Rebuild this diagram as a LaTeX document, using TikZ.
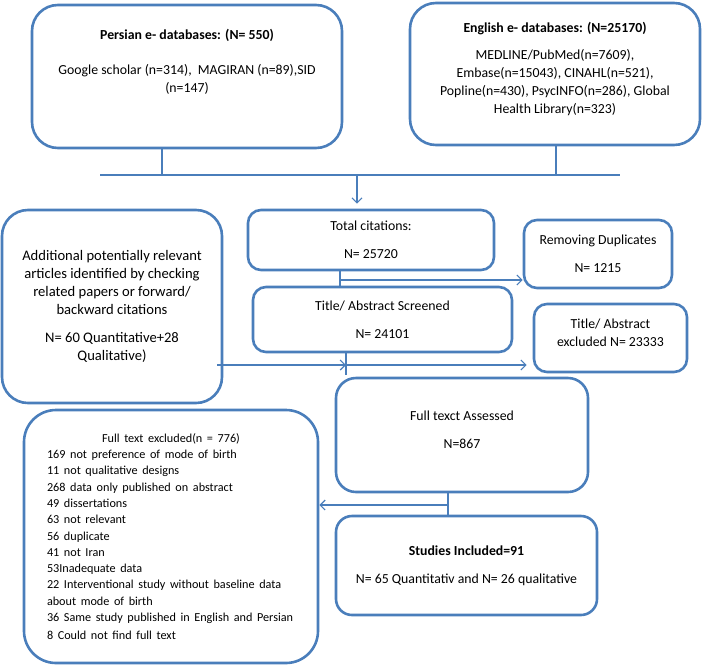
\documentclass[tikz,border=0pt]{standalone}
\usepackage{fontspec}
\setmainfont{Carlito}
\usetikzlibrary{arrows.meta}
\definecolor{boxblue}{RGB}{74,126,187}
\tikzset{
	bigbox/.style={draw=boxblue, line width=2.6pt, rounded corners=26pt, inner sep=0pt, align=center},
	smallbox/.style={draw=boxblue, line width=2.6pt, rounded corners=13pt, inner sep=0pt, align=center},
	link/.style={draw=boxblue, line width=1.2pt},
}

\begin{document}
\begin{tikzpicture}[x=1pt, y=-1pt, font=\fontsize{13.8}{18}\selectfont]
	\useasboundingbox (0,0) rectangle (708,664);
	
	\node (pers) [bigbox, minimum width=310pt, minimum height=143pt] at (187,76.5) {\textbf{Persian e- databases: (N= 550)}\\[17pt] Google scholar (n=314),~ MAGIRAN (n=89),SID\\ (n=147)\\[14pt]\mbox{}};
	\node (eng) [bigbox, minimum width=290pt, minimum height=142pt] at (555,74) {\textbf{English e- databases: (N=25170)}\\[9pt] MEDLINE/PubMed(n=7609),\\ Embase(n=15043), CINAHL(n=521),\\ Popline(n=430), PsycINFO(n=286), Global\\ Health Library(n=323)\\[-6pt]\mbox{}};
	
	\node (total) [smallbox, minimum width=246pt, minimum height=60pt] at (371,240) {Total citations:\\[10pt] N= 25720};
	\node (dup) [smallbox, minimum width=148pt, minimum height=68pt] at (598,254) {Removing Duplicates\\[10pt] N= 1215};
	\node (ttl) [smallbox, minimum width=259pt, minimum height=65pt] at (382.5,319.5) {Title/ Abstract Screened\\[10pt] N= 24101};
	\node (tae) [smallbox, minimum width=153pt, minimum height=68pt] at (610.5,338) {Title/ Abstract\\ excluded N= 23333\\[-8pt]\mbox{}};
	
	\node (add) [bigbox, minimum width=220pt, minimum height=193pt, font=\fontsize{14.6}{18}\selectfont] at (112,306.5) {Additional potentially relevant\\ articles identified by checking\\ related papers or forward/\\ backward citations\\[10pt] N= 60 Quantitative+28\\ Qualitative)};
	
	\node (fta) [bigbox, rounded corners=20pt, minimum width=252pt, minimum height=114pt] at (462,435) {Full texct Assessed\\[10pt] N=867\\[-8pt]\mbox{}};
	\node (sti) [smallbox, rounded corners=16pt, minimum width=261pt, minimum height=99pt] at (466.5,565.5) {\textbf{Studies Included=91}\\[10pt] N= 65 Quantitativ and N= 26 qualitative};
	
	\node (fte) [bigbox, rounded corners=32pt, minimum width=294pt, minimum height=253pt, text width=248pt, align=left] at (171,536.5) {\fontsize{12.2}{16.3}\selectfont\centering Full text excluded(n = 776)\par\raggedright
		169 not preference of mode of birth\\
		11 not qualitative designs\\
		268 data only published on abstract\\
		49 dissertations\\
		63 not relevant\\
		56 duplicate\\
		41 not Iran\\
		53Inadequate data\\
		22 Interventional study without baseline data\\
		about mode of birth\\
		36 Same study published in English and Persian\\
		8 Could not find full text};
	
	% joints of the connectors
	\coordinate (jl) at (100,175);
	\coordinate (jr) at (620,175);
	\coordinate (jp) at (162,175);
	\coordinate (je) at (556,175);
	\coordinate (jm) at (357,175);
	\coordinate (c1) at (340,280);
	\coordinate (c2) at (346,365);
	\coordinate (c3) at (448,505);
	
	\begin{scope}[link, >={Straight Barb[length=5pt, width=10pt]}]
		\draw (pers.south -| jp) -- (jp);
		\draw (eng.south -| je) -- (je);
		\draw (jl) -- (jr);
		\draw[->, shorten >=5pt] (jm) -- (total.north -| jm);
		
		\draw (total.south -| c1) -- (ttl.north -| c1);
		\draw[->] (c1) -- (c1 -| dup.west);
		
		\draw[->] ([xshift=-6pt]add.east |- c2) -- (c2);
		\draw (ttl.south -| c2) -- ([yshift=-10pt]c2);
		\draw[->, shorten >=6pt] (c2) -- (c2 -| tae.west);
		
		\draw (fta.south -| c3) -- (sti.north -| c3);
		\draw[->] (c3) -- (c3 -| fte.east);
	\end{scope}
	
\end{tikzpicture}
\end{document}
